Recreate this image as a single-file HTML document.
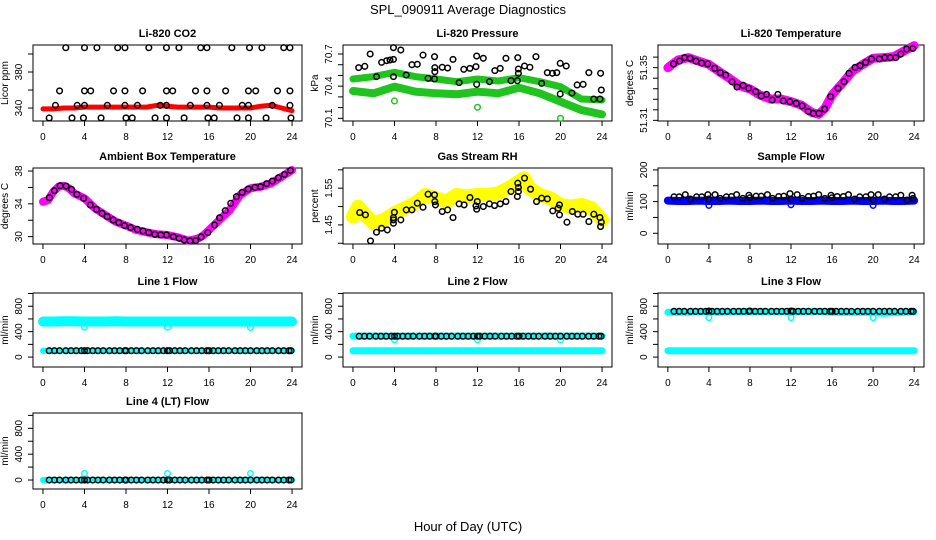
<!DOCTYPE html>
<html><head><meta charset="utf-8">
<style>
html,body{margin:0;padding:0;background:#fff;}
svg{display:block;font-family:"Liberation Sans",Helvetica,Arial,sans-serif;}
</style></head>
<body>
<svg id="chart" width="936" height="540" viewBox="0 0 936 540" xmlns="http://www.w3.org/2000/svg">
<rect x="0" y="0" width="936" height="540" fill="#fff"/>
<text x="468" y="14" text-anchor="middle" font-size="13">SPL_090911  Average Diagnostics</text>
<text x="468" y="531" text-anchor="middle" font-size="13">Hour of Day (UTC)</text>
</svg>
<script>
// ---------- data ----------
const xTicks = [0,4,8,12,16,20,24];
const hourly = [0,1,2,3,4,5,6,7,8,9,10,11,12,13,14,15,16,17,18,19,20,21,22,23,24];

// CO2
const co2Red = [339,339,340,340,341,341,341,341,341,341,341,343,342,341,341,341,341,340,340,340,340,342,343,340,337];
const co2BlkH = [2.2,4.0,5.2,7.2,7.9,10.2,11.9,13.1,15.2,15.8,18.2,19.9,21.1,23.2,23.8,
  1.6,4.0,4.6,6.8,7.9,9.6,11.9,12.5,14.7,15.8,17.6,19.8,20.5,22.6,23.8,
  1.2,3.3,4.0,6.2,7.9,9.1,11.3,11.9,14.2,15.8,17.0,19.2,19.8,22.1,23.8,
  0.6,2.8,3.9,5.6,8.0,8.6,10.8,11.9,13.6,15.9,16.5,18.7,19.8,21.5,23.9];
const co2BlkV = [407,407,407,407,407,407,407,407,407,407,407,407,407,407,407,
  359,359,359,359,359,359,359,359,359,359,359,359,359,359,359,
  343,343,343,343,343,343,343,343,343,343,343,343,343,343,343,
  329,329,329,329,329,329,329,329,329,329,329,329,329,329,329];

// Pressure
const presHours = [0,2,4,6,8,10,12,14,16,18,20,22,24];
const presUpper = [70.467,70.489,70.529,70.489,70.467,70.442,70.467,70.448,70.479,70.442,70.395,70.280,70.271];
const presLower = [70.355,70.333,70.395,70.349,70.333,70.324,70.349,70.333,70.386,70.333,70.255,70.178,70.137];
const presOutH = [4,12,20];
const presOutV = [70.262,70.203,70.100];
const presBlkH = [0.55,1.14,1.66,2.27,2.76,3.25,3.57,3.9,3.9,3.9,4.61,5.13,5.68,6.2,6.75,7.24,7.86,7.86,7.89,7.89,8.6,9.12,9.64,10.23,10.68,11.27,11.85,11.92,11.92,12.56,13.15,13.67,14.19,14.74,15.23,15.84,15.88,15.94,15.94,16.53,17.05,17.63,18.18,18.73,19.22,19.64,19.97,19.97,20.55,21.1,21.6,22.18,22.73,23.2,23.8,23.86,23.93];
const presBlkV = [70.573,70.585,70.70,70.489,70.622,70.638,70.644,70.650,70.759,70.489,70.737,70.504,70.60,70.604,70.69,70.473,70.675,70.467,70.535,70.573,70.576,70.569,70.65,70.433,70.557,70.566,70.582,70.681,70.417,70.66,70.442,70.545,70.566,70.66,70.451,70.451,70.666,70.52,70.56,70.588,70.576,70.675,70.426,70.526,70.52,70.526,70.613,70.327,70.588,70.336,70.411,70.417,70.526,70.28,70.28,70.52,70.364];

// Li-820 temperature
const ltHours = [0,1,2,3,4,5,6,7,8,9,10,11,12,13,14,14.7,15.3,16,17,18,19,20,21,22,23,24];
const ltBand = [51.350,51.3558,51.3576,51.3550,51.3525,51.3470,51.3419,51.3363,51.3338,51.3292,51.3262,51.3262,51.3242,51.3216,51.3161,51.3146,51.3191,51.3292,51.3381,51.3474,51.3525,51.3571,51.3576,51.3583,51.3626,51.3667];
const ltBlkH = [0.55,1.14,1.63,2.18,2.74,3.29,3.88,4.56,5.11,5.64,6.25,6.74,7.33,7.88,8.57,9.09,9.61,10.16,10.72,11.24,11.89,12.51,13.09,13.68,14.17,14.72,15.28,15.86,16.58,17.17,17.65,18.24,18.73,19.28,19.84,20.59,21.14,21.66,22.21,22.7,23.26,23.88];
const ltBlkV = [51.3528,51.3550,51.3576,51.3571,51.3550,51.3535,51.3528,51.3495,51.3462,51.3444,51.3393,51.3353,51.3366,51.3343,51.3318,51.3285,51.3297,51.3254,51.3297,51.3247,51.3242,51.3229,51.3209,51.3168,51.3153,51.3153,51.3186,51.3280,51.3343,51.3393,51.3457,51.3502,51.3515,51.3540,51.3566,51.3566,51.3576,51.3576,51.3576,51.3603,51.3641,51.3646];

// Ambient box temperature
const abHours = [0,0.5,1,1.5,2,2.5,3,4,5,6,7,8,9,10,11,12,13,14,15,15.5,16,17,18,19,20,21,22,23,24];
const abBand = [34.26,34.47,35.48,36.09,36.21,35.89,35.28,34.67,33.45,32.64,31.83,31.34,30.81,30.53,30.28,30.20,29.92,29.51,29.80,30.20,30.81,32.03,33.25,35.08,35.89,36.09,36.50,37.31,38.12];
const abBlkH = [0.61,1.10,1.65,2.23,2.75,3.27,3.92,4.56,5.15,5.70,6.18,6.76,7.31,7.86,8.45,9.09,9.64,10.19,10.78,11.36,11.91,12.56,13.11,13.62,14.17,14.72,15.24,15.89,16.54,17.02,17.57,18.09,18.64,19.19,19.77,20.42,20.97,21.55,22.10,22.69,23.27,23.85];
const abBlkV = [34.75,35.60,36.21,36.17,35.77,35.16,34.67,33.86,33.33,32.84,32.44,32.03,31.71,31.34,31.10,30.89,30.69,30.49,30.28,30.20,30.20,30.00,29.80,29.59,29.47,29.51,29.96,30.49,31.42,32.31,33.17,34.06,34.87,35.40,35.81,36.01,36.09,36.46,36.78,37.19,37.59,38.08];

// Gas stream RH
const rhHours = [0,0.5,1,2,3,4,5,6,7,8,9,10,11,12,13,14,15,16,16.5,17,18,19,20,21,22,23,24];
const rhBand = [1.4727,1.5000,1.4818,1.4545,1.4636,1.4818,1.4955,1.5091,1.5318,1.5227,1.5136,1.5318,1.5273,1.5318,1.5318,1.5364,1.5500,1.5682,1.5773,1.5500,1.5318,1.5227,1.5045,1.5000,1.5045,1.4955,1.4636];
const rhBlkH = [0.65,1.2,1.69,2.27,2.76,3.31,3.9,3.9,3.9,3.99,4.61,5.13,5.68,6.2,6.75,7.24,7.86,7.89,7.95,8.6,9.12,9.64,10.23,10.71,11.27,11.85,11.92,11.98,12.56,13.15,13.64,14.19,14.74,15.23,15.84,15.88,15.94,15.94,16.53,17.11,17.69,18.18,18.73,19.25,19.77,19.9,19.9,20.62,21.14,21.66,22.18,22.73,23.21,23.8,23.93,23.86];
const rhBlkV = [1.4836,1.4773,1.4064,1.43,1.4409,1.4364,1.47,1.4636,1.4545,1.4845,1.4636,1.4909,1.4909,1.5091,1.4982,1.5336,1.5318,1.5136,1.5045,1.4864,1.4909,1.47,1.5073,1.5045,1.5245,1.5018,1.4927,1.5136,1.5,1.5073,1.5027,1.5073,1.5136,1.5409,1.5273,1.5636,1.5409,1.5518,1.5773,1.5473,1.5136,1.5227,1.5209,1.4882,1.4955,1.5045,1.4773,1.4573,1.4864,1.4791,1.4791,1.4591,1.4791,1.47,1.4573,1.4455];

// Sample flow
const sfBand = [103,102,102,103,102,102,103,102,102,103,102,102,103,102,102,103,102,102,103,102,102,103,102,102,103];
const sfOutH = [4,12,20];
const sfOutV = [88,90,88];
const sfBlkH = [0.6,1.1,1.7,2.2,2.8,3.3,3.9,4.0,4.6,5.1,5.7,6.2,6.7,7.3,7.9,8.0,8.6,9.1,9.7,10.2,10.8,11.3,11.9,12.0,12.6,13.1,13.7,14.2,14.7,15.3,15.9,16.0,16.5,17.1,17.6,18.2,18.7,19.3,19.8,20.0,20.5,21.1,21.6,22.2,22.7,23.3,23.8,23.9];
const sfBlkV = [115,115,122,108,115,115,122,108,122,110,115,116,122,110,120,112,117,117,122,110,116,117,125,108,122,110,116,117,122,110,120,112,116,116,122,108,115,115,122,105,122,108,115,115,120,105,120,110];

// Line flows
const flowBlkH = [0.6,1.1,1.6,2.2,2.7,3.2,3.7,4.0,4.3,4.8,5.3,5.8,6.4,6.9,7.4,7.9,8.0,8.5,9.0,9.5,10.1,10.6,11.1,11.6,12.0,12.2,12.7,13.2,13.7,14.3,14.8,15.3,15.8,16.0,16.4,16.9,17.4,17.9,18.5,19.0,19.5,20.0,20.6,21.1,21.6,22.1,22.7,23.2,23.7,23.9];
const l1Blk = [100,100,100,100,100,100,100,100,100,100,100,100,100,100,100,100,100,100,100,100,100,100,100,100,100,100,100,100,100,100,100,100,100,100,100,100,100,100,100,100,100,100,100,100,100,100,100,100,100,100];
const l1CyanHi = [560,560,565,565,560,560,560,565,560,560,560,560,560,560,560,560,560,560,560,560,560,560,560,560,560];
const l1CyanLo = [100,100,100,100,100,100,100,100,100,100,100,100,100,100,100,100,100,100,100,100,100,100,100,100,100];
const l1OutH = [4,12,20];
const l1OutV = [470,470,465];
const l2Blk = [328,328,328,328,328,328,328,328,328,328,328,328,328,328,328,328,328,328,328,328,328,328,328,328,328,328,328,328,328,328,328,328,328,328,328,328,328,328,328,328,328,328,328,328,328,328,328,328,328,328];
const l2CyanHi = [330,330,330,330,330,330,330,330,330,330,330,330,330,330,330,330,330,330,330,330,330,330,330,330,330];
const l2CyanLo = [100,100,100,100,100,100,100,100,100,100,100,100,100,100,100,100,100,100,100,100,100,100,100,100,100];
const l2OutH = [4,12,20];
const l2OutV = [270,270,270];
const l3Blk = [720,720,720,720,720,720,720,725,720,720,720,720,720,720,720,720,725,720,720,720,720,720,720,720,725,720,720,720,720,720,720,720,720,720,720,720,720,720,720,720,720,720,720,720,720,720,720,720,720,720];
const l3CyanHi = [705,705,705,710,710,705,710,710,710,710,710,710,710,710,715,715,705,705,705,705,700,690,700,705,710];
const l3CyanLo = [100,100,100,100,100,100,100,100,100,100,100,100,100,100,100,100,100,100,100,100,100,100,100,100,100];
const l3OutH = [4,12,20];
const l3OutV = [620,620,620];
const l4Blk = [0,0,0,0,0,0,0,0,0,0,0,0,0,0,0,0,0,0,0,0,0,0,0,0,0,0,0,0,0,0,0,0,0,0,0,0,0,0,0,0,0,0,0,0,0,0,0,0,0,0];
const l4Cyan = [0,0,0,0,0,0,0,0,0,0,0,0,0,0,0,0,0,0,0,0,0,0,0,0,0];
const l4OutH = [4,12,20];
const l4OutV = [100,100,100];

// ---------- drawing ----------
const svg = document.getElementById('chart');
const NS = 'http://www.w3.org/2000/svg';
function mk(tag, attrs, parent){
  const e = document.createElementNS(NS, tag);
  for (const k in attrs) e.setAttribute(k, attrs[k]);
  (parent||svg).appendChild(e);
  return e;
}
const cols = [[33,302],[343,612],[658,924]];
const rows = [[45,121],[168,244],[293,367],[413,489]];

function makePanel(name, title, c, r, ymin, ymax, yTicks, yLabels, yTitle){
  const [x0,x1] = cols[c], [y0,y1] = rows[r];
  const g = mk('g', {});
  
  
  const p = {g, x0, x1, y0, y1,
    x: h => x0 + (h + 0.96) / 25.92 * (x1 - x0),
    y: v => y1 - (v - ymin) / (ymax - ymin) * (y1 - y0)};
  const t = mk('text', {x:(x0+x1)/2, y:y0-8, 'text-anchor':'middle', 'font-size':11, 'font-weight':'bold'}, g);
  
  
  t.textContent = title;
  const box = mk('rect', {x:x0, y:y0, width:x1-x0, height:y1-y0, fill:'none', stroke:'#000', 'stroke-width':1}, g);
  
  
  // x axis
  const xa = mk('g', {}, g);
  
  
  xTicks.forEach(v => {
    const X = p.x(v);
    mk('line', {x1:X, x2:X, y1:y1, y2:y1+5, stroke:'#000'}, xa);
    const l = mk('text', {x:X, y:y1+19, 'text-anchor':'middle', 'font-size':10}, xa);
    
    
    l.textContent = v;
  });
  // y axis
  const ya = mk('g', {}, g);
  
  
  yTicks.forEach(v => {
    const Y = p.y(v);
    mk('line', {x1:x0-5, x2:x0, y1:Y, y2:Y, stroke:'#000'}, ya);
  });
  yLabels.forEach(([v, s]) => {
    const Y = p.y(v), X = x0 - 11;
    const l = mk('text', {x:X, y:Y, 'text-anchor':'middle', 'font-size':10, transform:`rotate(-90 ${X} ${Y})`}, ya);
    
    
    l.textContent = s;
  });
  const YT = (y0+y1)/2, XT = x0 - 25;
  const yt = mk('text', {x:XT, y:YT, 'text-anchor':'middle', 'font-size':10, transform:`rotate(-90 ${XT} ${YT})`}, g);
  
  
  yt.textContent = yTitle;
  return p;
}
function band(p, hs, vs, color, w, name){
  const d = hs.map((h,i) => (i?'L':'M') + p.x(h).toFixed(1) + ',' + p.y(vs[i]).toFixed(1)).join('');
  const e = mk('path', {d, fill:'none', stroke:color, 'stroke-width':w, 'stroke-linejoin':'round', 'stroke-linecap':'round'}, p.g);
  
  
}
function pts(p, hs, vs, color, name){
  const g = mk('g', {}, p.g);
  
  
  hs.forEach((h,i) => {
    mk('circle', {cx:p.x(h), cy:p.y(vs[i]), r:2.8, fill:'none', stroke:color, 'stroke-width':1.5}, g);
  });
}

// CO2
let p = makePanel('co2', 'Li-820 CO2', 0, 0, 325.6, 410, [340,360,380,400], [[340,'340'],[380,'380']], 'Licor ppm');
band(p, hourly, co2Red, '#ff0000', 5, 'co2-series-red');
pts(p, co2BlkH, co2BlkV, '#000', 'co2-series-black');

// Pressure
p = makePanel('pressure', 'Li-820 Pressure', 1, 0, 70.075, 70.784, [70.1,70.2,70.3,70.4,70.5,70.6,70.7], [[70.1,'70.1'],[70.4,'70.4'],[70.7,'70.7']], 'kPa');
band(p, presHours, presUpper, '#1fc41f', 7, 'pressure-band-upper');
band(p, presHours, presLower, '#1fc41f', 8, 'pressure-band-lower');
pts(p, presOutH, presOutV, '#1fc41f', 'pressure-green-outliers');
pts(p, presBlkH, presBlkV, '#000', 'pressure-series-black');

// Li-820 temperature
p = makePanel('li820-temp', 'Li-820 Temperature', 2, 0, 51.3095, 51.3672, [51.310,51.318,51.326,51.334,51.342,51.350,51.358], [[51.310,'51.31'],[51.350,'51.35']], 'degrees C');
band(p, ltHours, ltBand, '#ff00ff', 9, 'li820-temp-band');
pts(p, ltBlkH, ltBlkV, '#000', 'li820-temp-series-black');

// Ambient box temp
p = makePanel('ambient-temp', 'Ambient Box Temperature', 0, 1, 29.1, 38.37, [30,32,34,36,38], [[30,'30'],[34,'34'],[38,'38']], 'degrees C');
band(p, abHours, abBand, '#ff00ff', 8, 'ambient-temp-band');
pts(p, abBlkH, abBlkV, '#000', 'ambient-temp-series-black');

// RH
p = makePanel('gas-rh', 'Gas Stream RH', 1, 1, 1.398, 1.605, [1.40,1.45,1.50,1.55,1.60], [[1.45,'1.45'],[1.55,'1.55']], 'percent');
band(p, rhHours, rhBand, '#ffff00', 14, 'gas-rh-band');
pts(p, rhBlkH, rhBlkV, '#000', 'gas-rh-series-black');

// Sample flow
p = makePanel('sample-flow', 'Sample Flow', 2, 1, -33.8, 206, [0,50,100,150,200], [[0,'0'],[100,'100'],[200,'200']], 'ml/min');
band(p, hourly, sfBand, '#0000ff', 8, 'sample-flow-band');
pts(p, sfOutH, sfOutV, '#0000ff', 'sample-flow-blue-outliers');
pts(p, sfBlkH, sfBlkV, '#000', 'sample-flow-series-black');

const fTicks = [0,200,400,600,800,1000];
const fLabels = [[0,'0'],[400,'400'],[800,'800']];
// Line 1
p = makePanel('line1-flow', 'Line 1 Flow', 0, 2, -156, 1008, fTicks, fLabels, 'ml/min');
band(p, hourly, l1CyanHi, '#00ffff', 10, 'line1-cyan-upper');
band(p, hourly, l1CyanLo, '#00ffff', 6, 'line1-cyan-lower');
pts(p, l1OutH, l1OutV, '#00ffff', 'line1-cyan-outliers');
pts(p, flowBlkH, l1Blk, '#000', 'line1-series-black');
// Line 2
p = makePanel('line2-flow', 'Line 2 Flow', 1, 2, -156, 1008, fTicks, fLabels, 'ml/min');
band(p, hourly, l2CyanHi, '#00ffff', 7, 'line2-cyan-upper');
band(p, hourly, l2CyanLo, '#00ffff', 7, 'line2-cyan-lower');
pts(p, l2OutH, l2OutV, '#00ffff', 'line2-cyan-outliers');
pts(p, flowBlkH, l2Blk, '#000', 'line2-series-black');
// Line 3
p = makePanel('line3-flow', 'Line 3 Flow', 2, 2, -156, 1008, fTicks, fLabels, 'ml/min');
band(p, hourly, l3CyanHi, '#00ffff', 7, 'line3-cyan-upper');
band(p, hourly, l3CyanLo, '#00ffff', 7, 'line3-cyan-lower');
pts(p, l3OutH, l3OutV, '#00ffff', 'line3-cyan-outliers');
pts(p, flowBlkH, l3Blk, '#000', 'line3-series-black');
// Line 4
p = makePanel('line4-flow', 'Line 4 (LT) Flow', 0, 3, -139, 1037, fTicks, fLabels, 'ml/min');
band(p, hourly, l4Cyan, '#00ffff', 6, 'line4-cyan');
pts(p, l4OutH, l4OutV, '#00ffff', 'line4-cyan-outliers');
pts(p, flowBlkH, l4Blk, '#000', 'line4-series-black');
</script>
</body></html>
